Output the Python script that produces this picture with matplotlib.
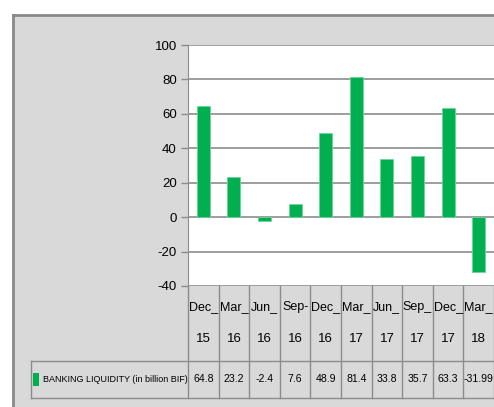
import numpy as np
import matplotlib.pyplot as plt
from matplotlib.patches import Rectangle
from matplotlib.transforms import blended_transform_factory
from matplotlib.lines import Line2D

cat_top = ['Dec_', 'Mar_', 'Jun_', 'Sep-', 'Dec_', 'Mar_', 'Jun_', 'Sep_', 'Dec_', 'Mar_']
cat_bottom = ['15', '16', '16', '16', '16', '17', '17', '17', '17', '18']
values = [64.8, 23.2, -2.4, 7.6, 48.9, 81.4, 33.8, 35.7, 63.3, -31.99]
value_labels = ['64.8', '23.2', '-2.4', '7.6', '48.9', '81.4', '33.8', '35.7', '63.3', '-31.99']
series_name = 'BANKING LIQUIDITY (in billion BIF)'
yticks = [-40, -20, 0, 20, 40, 60, 80, 100]

plt.rcParams['font.family'] = ['Liberation Sans Narrow', 'Liberation Sans', 'DejaVu Sans']
plt.rcParams['font.stretch'] = 'condensed'

W, H = 494, 407
fig = plt.figure(figsize=(W / 100, H / 100), dpi=100)
fig.patch.set_facecolor('white')

def fx(px):
    return px / W

def fy(py):
    return 1 - py / H

grid_c = '#8c8c8c'
green = '#00b050'

# gray chart area with top/left border
fig.patches.append(Rectangle((fx(13), 0), 1.1, fy(15), transform=fig.transFigure,
                             facecolor='#d9d9d9', edgecolor='none', zorder=-2))
fig.lines.append(Line2D([fx(13), 1.01], [fy(15), fy(15)], transform=fig.transFigure,
                        color='#8a8a8a', lw=2, zorder=-1))
fig.lines.append(Line2D([fx(13), fx(13)], [0, fy(15)], transform=fig.transFigure,
                        color='#8a8a8a', lw=2, zorder=-1))

ax_left, ax_right, ax_top, ax_bot = 188, 494, 45, 286
ax = fig.add_axes([fx(ax_left), fy(ax_bot), fx(ax_right - ax_left), fy(ax_top) - fy(ax_bot)])
ax.set_facecolor('white')

x = np.arange(len(values))
ax.bar(x, values, width=0.42, color=green, edgecolor='#6fd49a', linewidth=0.6, zorder=3)
ax.set_xlim(-0.5, len(values) - 0.5)
ax.set_ylim(-40, 100)
ax.set_yticks(yticks)
ax.set_yticklabels([str(t) for t in yticks], fontsize=9.5)
ax.set_xticks([])
ax.yaxis.grid(True, color=grid_c, lw=1.2)
ax.set_axisbelow(True)
ax.tick_params(axis='y', length=5, color=grid_c, width=1, pad=3)
for s in ['top', 'right', 'bottom']:
    ax.spines[s].set_visible(False)
ax.spines['left'].set_color(grid_c)

# data table below the plot
trans = blended_transform_factory(ax.transData, fig.transFigure)
y_hdr_bot = fy(361)
y_row_bot = fy(398)
for b in np.arange(-0.5, len(values), 1.0):
    ax.add_line(Line2D([b, b], [y_row_bot, fy(ax_bot)], transform=trans, color=grid_c,
                       lw=1, clip_on=False))
fig.lines.append(Line2D([fx(31), 1.01], [y_hdr_bot, y_hdr_bot], transform=fig.transFigure,
                        color=grid_c, lw=1))
fig.lines.append(Line2D([fx(31), 1.01], [y_row_bot, y_row_bot], transform=fig.transFigure,
                        color=grid_c, lw=1))
fig.lines.append(Line2D([fx(31), fx(31)], [y_row_bot, y_hdr_bot], transform=fig.transFigure,
                        color=grid_c, lw=1))

for i in range(len(values)):
    ax.text(i, fy(307), cat_top[i], transform=trans, ha='center', va='center', fontsize=9,
            clip_on=False)
    ax.text(i, fy(339), cat_bottom[i], transform=trans, ha='center', va='center', fontsize=9.5,
            clip_on=False)
    ax.text(i, fy(379), value_labels[i], transform=trans, ha='center', va='center',
            fontsize=7.6, clip_on=False)

fig.patches.append(Rectangle((fx(33), fy(386)), fx(6), fy(373) - fy(386), transform=fig.transFigure,
                             facecolor=green, edgecolor='none'))
fig.text(fx(43), fy(379), series_name, ha='left', va='center', fontsize=6.5)

plt.savefig('out.png', dpi=100)
